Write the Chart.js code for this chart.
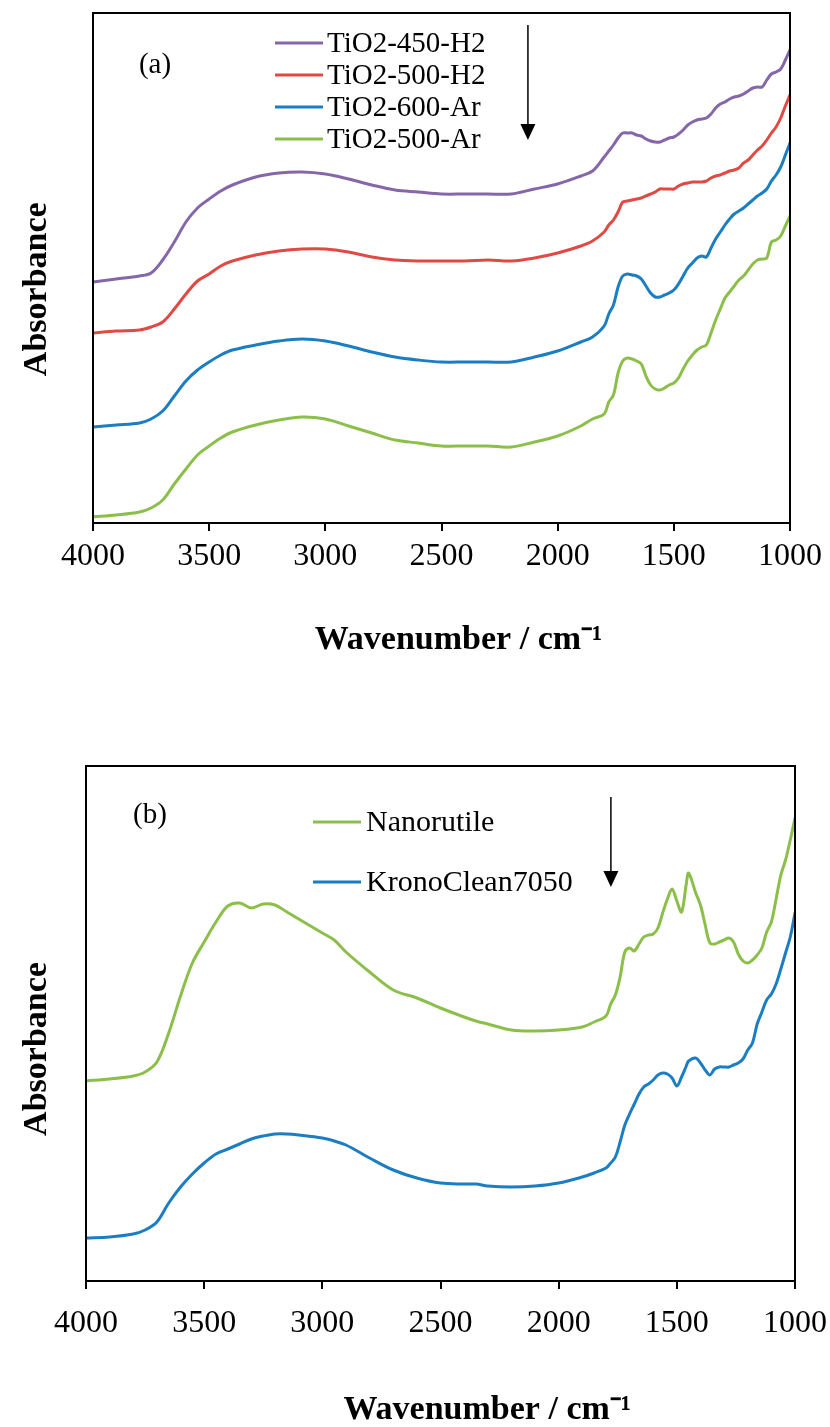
<!DOCTYPE html>
<html><head><meta charset="utf-8">
<script src="https://cdn.jsdelivr.net/npm/chart.js@4.4.1/dist/chart.umd.min.js"></script>
<style>
html,body{margin:0;padding:0;background:#fff;}
body{width:830px;height:1427px;overflow:hidden;position:relative;}
.wrap{position:absolute;left:0;width:830px;}
#wa{top:0;height:700px;}
#wb{top:700px;height:727px;}
canvas{display:block;}
</style></head><body>
<div class="wrap" id="wa"><canvas id="ca" width="830" height="700"></canvas></div>
<div class="wrap" id="wb"><canvas id="cb" width="830" height="727"></canvas></div>
<script>
// ---------- Panel (a) ----------
const wnA = [4000,3900,3800,3750,3700,3650,3600,3550,3500,3450,3400,3300,3200,3100,3000,2900,2800,2700,2600,2500,2400,2300,2200,2100,2000,1900,1850,1800,1780,1760,1740,1720,1700,1680,1660,1640,1620,1600,1580,1560,1540,1520,1500,1480,1460,1440,1420,1400,1380,1360,1340,1320,1300,1280,1260,1240,1220,1200,1180,1160,1140,1120,1100,1080,1060,1040,1020,1000];
const tio2_450_H2 = [2.41,2.44,2.47,2.50,2.63,2.81,3.01,3.15,3.24,3.32,3.38,3.46,3.50,3.51,3.49,3.44,3.38,3.33,3.31,3.29,3.29,3.29,3.29,3.34,3.39,3.47,3.52,3.66,3.72,3.78,3.85,3.90,3.90,3.90,3.88,3.87,3.84,3.82,3.81,3.81,3.83,3.85,3.86,3.89,3.93,3.98,4.01,4.03,4.04,4.05,4.09,4.15,4.19,4.21,4.24,4.26,4.27,4.29,4.32,4.35,4.36,4.36,4.43,4.49,4.51,4.54,4.63,4.73];
const tio2_500_H2 = [1.90,1.92,1.93,1.96,2.01,2.14,2.29,2.42,2.49,2.57,2.62,2.68,2.72,2.74,2.74,2.71,2.66,2.63,2.62,2.62,2.62,2.63,2.62,2.65,2.70,2.77,2.82,2.91,2.98,3.03,3.11,3.21,3.22,3.23,3.24,3.25,3.27,3.29,3.31,3.34,3.34,3.34,3.34,3.37,3.39,3.40,3.41,3.41,3.41,3.42,3.45,3.47,3.48,3.50,3.52,3.53,3.55,3.60,3.63,3.68,3.73,3.77,3.83,3.90,3.96,4.05,4.17,4.28];
const tio2_600_Ar = [0.96,0.98,1.00,1.04,1.12,1.27,1.42,1.53,1.61,1.68,1.73,1.78,1.82,1.84,1.82,1.77,1.71,1.66,1.63,1.61,1.61,1.61,1.61,1.66,1.72,1.81,1.86,1.97,2.09,2.18,2.36,2.47,2.49,2.48,2.47,2.44,2.37,2.30,2.26,2.26,2.28,2.30,2.33,2.39,2.47,2.55,2.60,2.65,2.67,2.66,2.75,2.84,2.91,2.98,3.04,3.09,3.12,3.15,3.19,3.23,3.27,3.30,3.34,3.42,3.48,3.56,3.68,3.80];
const tio2_500_Ar = [0.06,0.08,0.11,0.15,0.23,0.39,0.54,0.68,0.77,0.85,0.91,0.98,1.03,1.06,1.04,0.97,0.90,0.83,0.80,0.77,0.77,0.77,0.76,0.81,0.87,0.97,1.04,1.09,1.21,1.28,1.50,1.62,1.65,1.64,1.62,1.59,1.47,1.38,1.34,1.33,1.35,1.38,1.40,1.45,1.54,1.62,1.68,1.73,1.76,1.78,1.90,2.03,2.14,2.25,2.31,2.37,2.43,2.47,2.53,2.59,2.63,2.64,2.65,2.81,2.83,2.87,2.97,3.07];

// ---------- Panel (b) ----------
const wnB = [4000,3900,3800,3750,3700,3650,3600,3550,3500,3450,3400,3350,3300,3250,3200,3150,3100,3000,2950,2900,2800,2700,2600,2500,2400,2350,2300,2200,2100,2000,1900,1850,1800,1780,1760,1740,1720,1700,1680,1660,1640,1620,1600,1580,1560,1540,1520,1500,1480,1460,1450,1420,1400,1380,1360,1340,1320,1300,1280,1260,1240,1220,1200,1180,1160,1140,1120,1100,1080,1060,1040,1020,1000];
const nanorutile = [2.00,2.02,2.05,2.09,2.19,2.48,2.85,3.18,3.39,3.59,3.75,3.78,3.73,3.77,3.76,3.69,3.62,3.48,3.41,3.29,3.09,2.91,2.83,2.73,2.64,2.60,2.57,2.51,2.50,2.51,2.54,2.59,2.65,2.77,2.86,3.04,3.29,3.33,3.30,3.37,3.44,3.46,3.47,3.53,3.68,3.82,3.92,3.80,3.69,3.97,4.08,3.88,3.76,3.56,3.38,3.37,3.39,3.41,3.43,3.39,3.27,3.20,3.18,3.21,3.26,3.33,3.49,3.59,3.82,4.06,4.21,4.41,4.63];
const kronoClean7050 = [0.43,0.44,0.47,0.51,0.59,0.78,0.94,1.07,1.18,1.27,1.32,1.37,1.42,1.45,1.47,1.47,1.46,1.43,1.40,1.36,1.23,1.11,1.03,0.98,0.97,0.97,0.95,0.94,0.95,0.98,1.04,1.08,1.13,1.18,1.24,1.39,1.56,1.67,1.77,1.87,1.94,1.97,2.01,2.06,2.08,2.07,2.03,1.95,2.04,2.15,2.20,2.23,2.18,2.11,2.06,2.12,2.14,2.14,2.14,2.16,2.18,2.22,2.31,2.38,2.57,2.69,2.81,2.87,2.97,3.12,3.28,3.44,3.68];

const xTicks = [4000,3500,3000,2500,2000,1500,1000];

const C = {purple:'#8566A9', red:'#E04A45', blue:'#1C7EC2', green:'#8CBF4A'};
const SERIF = "'Liberation Serif', 'Times New Roman', serif";

function series(label, wn, vals, color){
  return {label, data: wn.map((w,i)=>({x:w, y:vals[i]})), borderColor: color, backgroundColor: color,
    borderWidth: 3, pointRadius: 0, fill: false, tension: 0.35, borderCapStyle: 'round', borderJoinStyle: 'round'};
}

const decorPlugin = {
  id: 'decor',
  afterDatasetsDraw(chart, args, o) {
    const {ctx, chartArea: a, scales} = chart;
    ctx.save();
    // frame
    ctx.strokeStyle = '#000'; ctx.lineWidth = 2;
    ctx.strokeRect(a.left, a.top, a.right - a.left, a.bottom - a.top);
    // panel label
    ctx.fillStyle = '#000';
    ctx.font = o.labelFont;
    ctx.textAlign = 'center'; ctx.textBaseline = 'middle';
    ctx.fillText(o.label, a.left + o.labelDx, a.top + o.labelDy);
    // legend
    ctx.font = o.legendFont; ctx.textAlign = 'left';
    chart.data.datasets.forEach((ds, i) => {
      const y = a.top + o.legendDy + i * o.legendGap;
      const x0 = a.left + o.legendDx;
      ctx.strokeStyle = ds.borderColor; ctx.lineWidth = 3;
      ctx.beginPath(); ctx.moveTo(x0, y); ctx.lineTo(x0 + o.legendLen, y); ctx.stroke();
      ctx.fillStyle = '#000';
      ctx.fillText(ds.label, x0 + o.legendLen + o.legendTextGap, y + 1);
    });
    // arrow
    const ax = scales.x.getPixelForValue(o.arrow.x);
    const ay1 = scales.y.getPixelForValue(o.arrow.y1);
    const ay2 = scales.y.getPixelForValue(o.arrow.y2);
    ctx.strokeStyle = '#000'; ctx.fillStyle = '#000'; ctx.lineWidth = 1.5;
    ctx.beginPath(); ctx.moveTo(ax, ay1); ctx.lineTo(ax, ay2 - 12); ctx.stroke();
    ctx.beginPath(); ctx.moveTo(ax - 7.5, ay2 - 16); ctx.lineTo(ax + 7.5, ay2 - 16); ctx.lineTo(ax, ay2); ctx.closePath(); ctx.fill();
    ctx.restore();
  }
};

function makeChart(id, datasets, cfg) {
  return new Chart(document.getElementById(id), {
    type: 'line',
    data: {datasets},
    plugins: [decorPlugin],
    options: {
      responsive: false, animation: false, events: [],
      layout: {padding: {top: cfg.padTop, right: cfg.padRight, left: 0, bottom: 0}},
      plugins: {legend: {display: false}, tooltip: {enabled: false}, decor: cfg.decor},
      scales: {
        x: {
          type: 'linear', min: 1000, max: 4000, reverse: true,
          afterBuildTicks: s => { s.ticks = xTicks.map(v => ({value: v})); },
          ticks: {color: '#000', font: {family: SERIF, size: 32}, padding: cfg.tickPad, maxRotation: 0, autoSkip: false,
                  callback: v => String(v)},
          grid: {display: true, drawOnChartArea: false, drawTicks: true, tickLength: 8, color: '#000', lineWidth: 2},
          border: {display: false},
          title: {display: true, text: cfg.xTitle, color: '#000',
                  font: {family: SERIF, size: 34, weight: 'bold', lineHeight: 1}, padding: {top: 0, bottom: cfg.xTitlePad}},
          afterFit: s => { s.height = cfg.xHeight; s.paddingLeft = 0; s.paddingRight = 0; }
        },
        y: {
          min: 0, max: cfg.yMax,
          ticks: {display: false}, grid: {display: false, drawTicks: false}, border: {display: false},
          title: {display: true, text: cfg.yTitle, color: '#000',
                  font: {family: SERIF, size: 34, weight: 'bold', lineHeight: 1}, padding: {top: 20, bottom: 0}},
          afterFit: s => { s.width = cfg.yWidth; s.paddingTop = 0; s.paddingBottom = 0; }
        }
      }
    }
  });
}

makeChart('ca', [
  series('TiO2-450-H2', wnA, tio2_450_H2, C.purple),
  series('TiO2-500-H2', wnA, tio2_500_H2, C.red),
  series('TiO2-600-Ar', wnA, tio2_600_Ar, C.blue),
  series('TiO2-500-Ar', wnA, tio2_500_Ar, C.green)
], {
  padTop: 13, padRight: 40, yWidth: 93, xHeight: 177, yMax: 5.10, tickPad: 6,
  xTitle: '    Wavenumber / cm\u207B\u00B9', xTitlePad: 43, yTitle: 'Absorbance     ',
  decor: {label: '(a)', labelFont: "29px " + SERIF, labelDx: 62, labelDy: 52,
          legendFont: "29px " + SERIF, legendDx: 182, legendDy: 30, legendGap: 32, legendLen: 48, legendTextGap: 4,
          arrow: {x: 2128, y1: 4.98, y2: 3.83}}
});

makeChart('cb', [
  series('Nanorutile', wnB, nanorutile, C.green),
  series('KronoClean7050', wnB, kronoClean7050, C.blue)
], {
  padTop: 66, padRight: 35, yWidth: 86, xHeight: 146, yMax: 5.15, tickPad: 15,
  xTitle: '           Wavenumber / cm\u207B\u00B9', xTitlePad: 0, yTitle: 'Absorbance      ',
  decor: {label: '(b)', labelFont: "29px " + SERIF, labelDx: 64, labelDy: 49,
          legendFont: "30px " + SERIF, legendDx: 227, legendDy: 56, legendGap: 60, legendLen: 48, legendTextGap: 5,
          arrow: {x: 1779, y1: 4.84, y2: 3.94}}
});
</script>
</body></html>
